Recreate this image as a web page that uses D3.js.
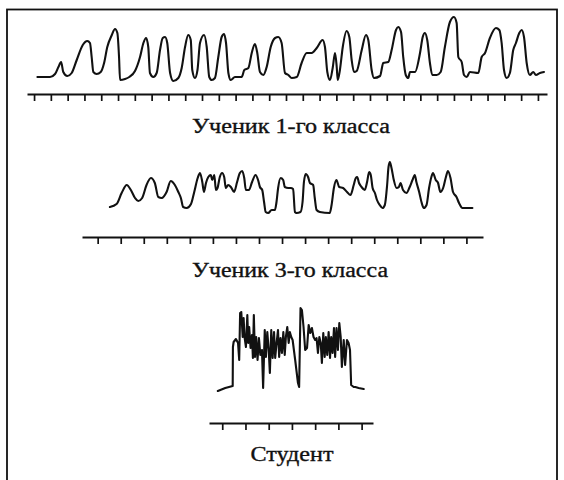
<!DOCTYPE html>
<html>
<head>
<meta charset="utf-8">
<script src="https://cdn.jsdelivr.net/npm/d3@7"></script>
<style>
    html, body { margin: 0; padding: 0; background: #fff; }
    #chart { width: 564px; height: 480px; }
</style>
</head>
<body>
<div id="chart"></div>
<script>
/******************************************************
 * Eye movement traces while reading
 * (1st grade pupil, 3rd grade pupil, student)
*******************************************************/

//! DATA  (time in tick intervals, amplitude in arbitrary units)
const LABELS = ["Ученик 1-го класса", "Ученик 3-го класса", "Студент"];
const TICK_COUNTS = [31, 17, 7];

const GRADE1_TRACE = [
    [0.20, 1], [0.95, 1], [1.25, 4], [1.45, 11], [1.61, 16], [1.74, 6], [1.98, 2], [2.24, 5],
    [2.54, 18], [2.90, 33], [3.17, 37], [3.33, 35], [3.43, 21], [3.53, 6], [3.73, 4], [3.97, 6],
    [4.17, 15], [4.36, 31], [4.63, 43], [4.82, 49], [4.96, 45], [5.06, 21], [5.12, -2], [5.42, -1],
    [5.67, 1], [6.01, 7], [6.31, 21], [6.51, 35], [6.67, 40], [6.80, 31], [6.90, 5], [7.10, 1],
    [7.30, 5], [7.50, 28], [7.66, 40], [7.80, 41], [7.93, 35], [8.10, 5], [8.29, -3], [8.59, 0],
    [8.79, 10], [8.99, 31], [9.18, 43], [9.33, 38], [9.42, 8], [9.58, 0], [9.73, 8], [9.88, 35],
    [10.12, 43], [10.28, 31], [10.43, 1], [10.58, -2], [10.77, 0], [10.97, 21], [11.17, 41], [11.31, 44],
    [11.43, 35], [11.57, 5], [11.71, -2], [11.96, 1], [12.36, 1], [12.52, 8], [12.76, 10], [12.96, 25],
    [13.15, 34], [13.29, 25], [13.45, 6], [13.65, 3], [13.85, 11], [14.09, 31], [14.35, 40], [14.54, 41],
    [14.74, 35], [14.94, 5], [15.14, 3], [15.34, 0], [15.64, 1], [15.93, 15], [16.23, 25], [16.53, 25],
    [16.83, 30], [17.18, 38], [17.32, 31], [17.46, 6], [17.62, -2], [17.78, 10], [17.92, 25], [18.02, 11],
    [18.08, -2], [18.21, 8], [18.38, 31], [18.61, 47], [18.77, 41], [18.91, 18], [19.05, 6], [19.21, 7],
    [19.51, 28], [19.76, 43], [19.90, 38], [20.10, 8], [20.24, 0], [20.60, 2], [20.79, 15], [21.09, 16],
    [21.29, 28], [21.55, 48], [21.68, 51], [21.85, 46], [21.98, 21], [22.13, 3], [22.28, 0], [22.38, 6],
    [22.68, 6], [22.98, 25], [23.14, 41], [23.27, 45], [23.41, 38], [23.57, 15], [23.71, 3], [23.97, 3],
    [24.21, 6], [24.46, 31], [24.76, 56], [25.00, 61], [25.16, 55], [25.26, 21], [25.46, 16], [25.60, 3],
    [25.76, 1], [25.95, 6], [26.45, 5], [26.65, 21], [26.85, 25], [27.14, 40], [27.50, 50], [27.70, 48],
    [27.84, 35], [27.98, 8], [28.14, 0], [28.33, 5], [28.53, 28], [28.69, 35], [28.89, 45], [29.03, 48],
    [29.17, 41], [29.33, 15], [29.52, 3], [29.72, 6], [29.88, 3], [30.12, 5], [30.36, 6]
];

const GRADE3_TRACE = [
    [0.53, 5], [0.82, 8], [1.04, 19], [1.26, 27], [1.44, 22], [1.62, 14], [1.76, 11], [1.93, 14],
    [2.12, 27], [2.31, 34], [2.48, 29], [2.63, 15], [2.78, 14], [2.99, 20], [3.17, 31], [3.35, 27],
    [3.50, 20], [3.61, 14], [3.71, 5], [3.86, 4], [4.05, 8], [4.19, 20], [4.34, 34], [4.44, 39],
    [4.54, 30], [4.61, 20], [4.70, 29], [4.80, 35], [4.91, 37], [4.97, 32], [5.06, 37], [5.13, 22],
    [5.20, 24], [5.30, 35], [5.40, 39], [5.49, 35], [5.56, 24], [5.66, 27], [5.78, 25], [5.92, 20],
    [6.05, 30], [6.17, 39], [6.27, 41], [6.36, 34], [6.43, 22], [6.56, 22], [6.70, 30], [6.85, 37],
    [6.96, 32], [7.04, 25], [7.14, 22], [7.22, 10], [7.29, 0], [7.40, -1], [7.55, 2], [7.69, 2],
    [7.76, 10], [7.83, 24], [7.94, 34], [8.05, 32], [8.12, 25], [8.27, 24], [8.38, 24], [8.48, 23],
    [8.56, 0], [8.63, -1], [8.80, 0], [8.89, 10], [8.95, 30], [9.03, 38], [9.13, 35], [9.21, 29],
    [9.35, 27], [9.42, 14], [9.50, 2], [9.64, 0], [10.07, -1], [10.15, 7], [10.25, 24], [10.36, 32],
    [10.48, 25], [10.65, 24], [10.82, 20], [10.97, 17], [11.11, 27], [11.20, 34], [11.26, 35], [11.34, 29],
    [11.45, 25], [11.59, 22], [11.69, 30], [11.78, 40], [11.85, 37], [11.93, 24], [12.03, 19], [12.12, 12],
    [12.24, 7], [12.36, 4], [12.46, 7], [12.56, 27], [12.62, 45], [12.68, 50], [12.75, 44], [12.85, 32],
    [12.97, 24], [13.07, 25], [13.14, 29], [13.25, 22], [13.40, 19], [13.54, 25], [13.66, 32], [13.76, 37],
    [13.83, 30], [13.95, 20], [14.05, 10], [14.15, 4], [14.27, 7], [14.38, 24], [14.48, 35], [14.55, 39],
    [14.67, 32], [14.77, 29], [14.87, 20], [14.99, 24], [15.10, 34], [15.20, 41], [15.31, 34], [15.42, 20],
    [15.57, 15], [15.68, 9], [15.83, 4], [16.00, 4], [16.26, 4]
];

const STUDENT_TRACE = [
    [-0.19, 0], [0.13, 3], [0.45, 5], [0.46, 44], [0.49, 49], [0.59, 52], [0.68, 48], [0.73, 31],
    [0.77, 78], [0.82, 79], [0.88, 54], [0.92, 73], [0.96, 54], [1.02, 44], [1.08, 76], [1.12, 48],
    [1.16, 64], [1.22, 43], [1.28, 56], [1.32, 33], [1.36, 76], [1.41, 34], [1.46, 54], [1.52, 31],
    [1.58, 53], [1.64, 36], [1.71, 41], [1.76, 3], [1.83, 61], [1.88, 34], [1.94, 59], [2.00, 41],
    [2.05, 18], [2.11, 61], [2.17, 33], [2.23, 59], [2.28, 33], [2.34, 48], [2.40, 61], [2.45, 34],
    [2.51, 53], [2.57, 38], [2.63, 59], [2.69, 36], [2.74, 54], [2.80, 64], [2.86, 48], [2.91, 59],
    [2.97, 54], [3.03, 51], [3.14, 31], [3.26, 8], [3.31, 4], [3.37, 83], [3.43, 81], [3.50, 64],
    [3.57, 41], [3.65, 43], [3.72, 66], [3.79, 58], [3.86, 63], [3.93, 54], [4.00, 51], [4.06, 53],
    [4.12, 38], [4.18, 54], [4.24, 48], [4.29, 28], [4.35, 58], [4.41, 34], [4.46, 54], [4.52, 36],
    [4.58, 59], [4.64, 33], [4.69, 54], [4.75, 38], [4.81, 63], [4.86, 34], [4.92, 63], [4.98, 41],
    [5.04, 68], [5.10, 54], [5.15, 24], [5.23, 51], [5.29, 26], [5.37, 51], [5.44, 48], [5.50, 41],
    [5.55, 6], [5.66, 4], [5.73, 4], [5.87, 3], [6.09, 2]
];

//! LAYOUT
const WIDTH = 564;
const HEIGHT = 480;
const FONT = "Liberation Serif, DejaVu Serif, serif";
const TICK_LENGTH = 7;

// one entry per panel: x/y extents in pixels, axis line y, label placement
const PANELS = [
    { trace: GRADE1_TRACE, tDomain: [-0.42, 30.54], xRange: [27, 547],
      aDomain: [0, 62], yRange: [78, 16], axisY: 94,
      curve: d3.curveMonotoneX, width: 2.1, labelY: 133, labelX: 291, labelW: 198 },
    { trace: GRADE3_TRACE, tDomain: [-0.68, 16.72], xRange: [82, 483],
      aDomain: [0, 50], yRange: [212, 162], axisY: 237,
      curve: d3.curveMonotoneX, width: 2.1, labelY: 277, labelX: 290, labelW: 196 },
    { trace: STUDENT_TRACE, tDomain: [-0.57, 6.49], xRange: [209, 373],
      aDomain: [0, 85], yRange: [391, 306], axisY: 423,
      curve: d3.curveLinear, width: 2.1, labelY: 461, labelX: 292, labelW: 83 }
];

/******************************************************
 * Draw everything
*******************************************************/
function draw() {
    const svg = d3.select("#chart")
        .append("svg")
        .attr("width", WIDTH)
        .attr("height", HEIGHT);

    // Frame round the figure (bottom edge runs off the page)
    svg.append("rect")
        .attr("x", 7)
        .attr("y", 9.5)
        .attr("width", 550)
        .attr("height", 490)
        .style("fill", "none")
        .style("stroke", "#111")
        .style("stroke-width", 1.8);

    PANELS.forEach((p, i) => drawPanel(svg, p, i));
}

/******************************************************
 * One trace with its time axis and caption
*******************************************************/
function drawPanel(svg, p, i) {
    const x = d3.scaleLinear().domain(p.tDomain).range(p.xRange);
    const y = d3.scaleLinear().domain(p.aDomain).range(p.yRange);

    // Time axis: bare line with downward ticks, no numbers
    const axis = d3.axisBottom(x)
        .tickValues(d3.range(TICK_COUNTS[i]))
        .tickSize(TICK_LENGTH)
        .tickSizeOuter(0)
        .tickFormat("");

    const g = svg.append("g")
        .attr("transform", "translate(0," + p.axisY + ")")
        .call(axis);
    g.select(".domain")
        .style("stroke", "#111")
        .style("stroke-width", 2.2);
    g.selectAll(".tick line")
        .style("stroke", "#111")
        .style("stroke-width", 1.7);

    // Trace
    const line = d3.line()
        .x(d => x(d[0]))
        .y(d => y(d[1]))
        .curve(p.curve);

    svg.append("path")
        .datum(p.trace)
        .attr("d", line)
        .style("fill", "none")
        .style("stroke", "#111")
        .style("stroke-width", p.width)
        .style("stroke-linejoin", "round")
        .style("stroke-linecap", "round");

    // Caption (scanned type is heavier than the screen font)
    svg.append("text")
        .attr("x", p.labelX)
        .attr("y", p.labelY)
        .attr("text-anchor", "middle")
        .attr("textLength", p.labelW)
        .attr("lengthAdjust", "spacingAndGlyphs")
        .attr("font-family", FONT)
        .attr("font-size", 20)
        .style("fill", "#111")
        .style("stroke", "#111")
        .style("stroke-width", 0.35)
        .text(LABELS[i]);
}

draw();
</script>
</body>
</html>
